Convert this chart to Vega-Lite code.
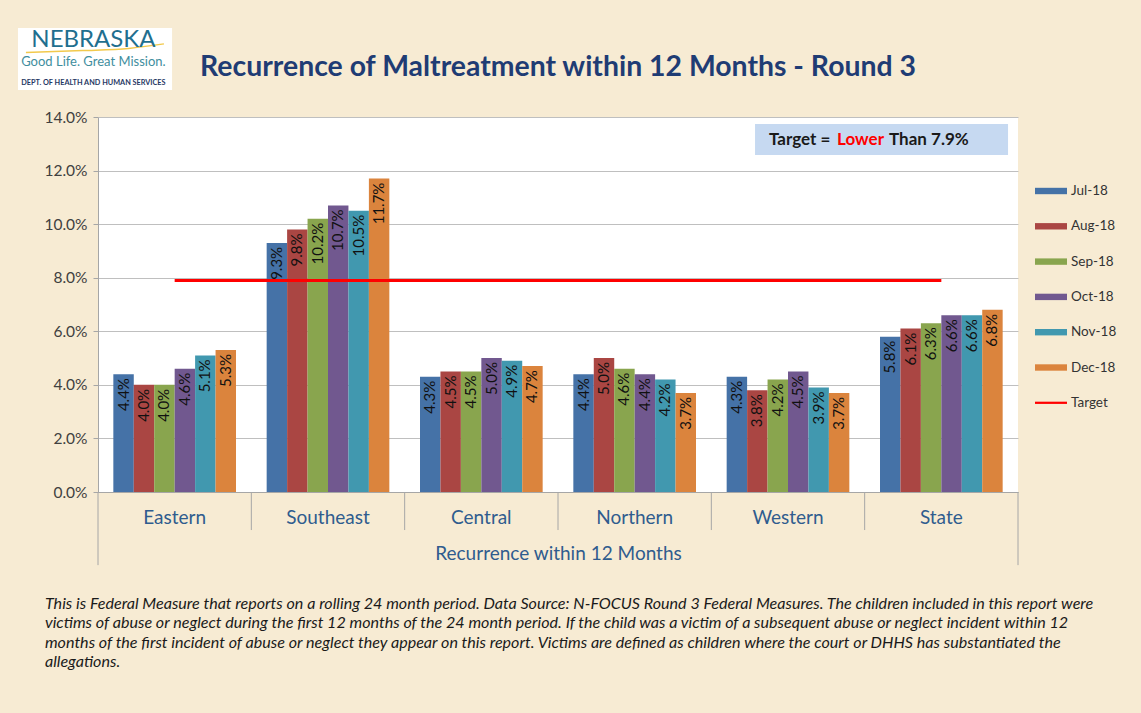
{
  "$schema": "https://vega.github.io/schema/vega-lite/v6.json",
  "width": 920,
  "height": 375,
  "autosize": "none",
  "padding": {"left": 98, "top": 117, "right": 123, "bottom": 221},
  "background": "#F7EBD3",
  "view": {"fill": "white", "stroke": null},
  "title": {
    "text": "Recurrence of Maltreatment within 12 Months - Round 3",
    "font": "Lato",
    "fontSize": 28.4,
    "fontWeight": "bold",
    "color": "#1F3C74",
    "anchor": "middle",
    "frame": "group",
    "offset": -55
  },
  "config": {"font": "Lato"},
  "datasets": {
    "bars": [
      {"region": "Eastern", "month": "Jul-18", "value": 0.044},
      {"region": "Eastern", "month": "Aug-18", "value": 0.040},
      {"region": "Eastern", "month": "Sep-18", "value": 0.040},
      {"region": "Eastern", "month": "Oct-18", "value": 0.046},
      {"region": "Eastern", "month": "Nov-18", "value": 0.051},
      {"region": "Eastern", "month": "Dec-18", "value": 0.053},
      {"region": "Southeast", "month": "Jul-18", "value": 0.093},
      {"region": "Southeast", "month": "Aug-18", "value": 0.098},
      {"region": "Southeast", "month": "Sep-18", "value": 0.102},
      {"region": "Southeast", "month": "Oct-18", "value": 0.107},
      {"region": "Southeast", "month": "Nov-18", "value": 0.105},
      {"region": "Southeast", "month": "Dec-18", "value": 0.117},
      {"region": "Central", "month": "Jul-18", "value": 0.043},
      {"region": "Central", "month": "Aug-18", "value": 0.045},
      {"region": "Central", "month": "Sep-18", "value": 0.045},
      {"region": "Central", "month": "Oct-18", "value": 0.050},
      {"region": "Central", "month": "Nov-18", "value": 0.049},
      {"region": "Central", "month": "Dec-18", "value": 0.047},
      {"region": "Northern", "month": "Jul-18", "value": 0.044},
      {"region": "Northern", "month": "Aug-18", "value": 0.050},
      {"region": "Northern", "month": "Sep-18", "value": 0.046},
      {"region": "Northern", "month": "Oct-18", "value": 0.044},
      {"region": "Northern", "month": "Nov-18", "value": 0.042},
      {"region": "Northern", "month": "Dec-18", "value": 0.037},
      {"region": "Western", "month": "Jul-18", "value": 0.043},
      {"region": "Western", "month": "Aug-18", "value": 0.038},
      {"region": "Western", "month": "Sep-18", "value": 0.042},
      {"region": "Western", "month": "Oct-18", "value": 0.045},
      {"region": "Western", "month": "Nov-18", "value": 0.039},
      {"region": "Western", "month": "Dec-18", "value": 0.037},
      {"region": "State", "month": "Jul-18", "value": 0.058},
      {"region": "State", "month": "Aug-18", "value": 0.061},
      {"region": "State", "month": "Sep-18", "value": 0.063},
      {"region": "State", "month": "Oct-18", "value": 0.066},
      {"region": "State", "month": "Nov-18", "value": 0.066},
      {"region": "State", "month": "Dec-18", "value": 0.068}
    ],
    "target": [
      {"region": "Eastern", "target": 0.079},
      {"region": "Southeast", "target": 0.079},
      {"region": "Central", "target": 0.079},
      {"region": "Northern", "target": 0.079},
      {"region": "Western", "target": 0.079},
      {"region": "State", "target": 0.079}
    ],
    "boxes": [
      {"name": "logo", "x": -0.522, "x2": 0.483, "y": 0.1501, "y2": 0.1732, "fill": "white"},
      {"name": "target", "x": 4.285, "x2": 5.935, "y": 0.1258, "y2": 0.1374, "fill": "box"}
    ],
    "dividers": [
      {"x": 0, "y": 0, "y2": -0.0273},
      {"x": 1, "y": 0, "y2": -0.0142},
      {"x": 2, "y": 0, "y2": -0.0142},
      {"x": 3, "y": 0, "y2": -0.0142},
      {"x": 4, "y": 0, "y2": -0.0142},
      {"x": 5, "y": 0, "y2": -0.0142},
      {"x": 6, "y": 0, "y2": -0.0273}
    ],
    "targetText": [
      {"t": "Target =", "x": 4.376, "y": 0.1314, "c": "black"},
      {"t": "Lower", "x": 4.82, "y": 0.1314, "c": "red"},
      {"t": "Than 7.9%", "x": 5.159, "y": 0.1314, "c": "black"}
    ],
    "swoosh": [
      {"x": -0.47, "y": 0.1641, "o": 1},
      {"x": -0.1, "y": 0.1648, "o": 2},
      {"x": 0.2, "y": 0.1656, "o": 3},
      {"x": 0.43, "y": 0.1673, "o": 4}
    ],
    "note": [
      {"t": "This is Federal Measure that reports on a rolling 24 month period.  Data Source: N-FOCUS Round 3 Federal Measures.  The children included in this report were\nvictims of  abuse or neglect during the first 12 months of the 24 month period.  If the child was a victim of a subsequent abuse or neglect incident within 12\nmonths of the first incident of abuse or neglect they appear on this report.  Victims are defined as children where the court or DHHS has substantiated the\nallegations.", "x": -0.346, "y": -0.0388}
    ]
  },
  "layer": [
    {
      "layer": [
        {
          "data": {"name": "bars"},
          "mark": {"type": "bar"},
          "encoding": {
            "x": {
              "field": "region", "type": "nominal", "sort": null,
              "scale": {"paddingInner": 0.2, "paddingOuter": 0.1},
              "axis": {
                "title": "Recurrence within 12 Months",
                "labelAngle": 0,
                "labelFontSize": 19,
                "labelColor": "#2F5C8E",
                "labelPadding": 16,
                "ticks": false,
                "domainColor": "#A6A6A6",
                "titleFontSize": 19,
                "titleFontWeight": "normal",
                "titleColor": "#2F5C8E",
                "titlePadding": 17,
                "grid": false
              }
            },
            "xOffset": {
              "field": "month", "type": "nominal",
              "sort": ["Jul-18", "Aug-18", "Sep-18", "Oct-18", "Nov-18", "Dec-18"],
              "scale": {"paddingInner": 0, "paddingOuter": 0}
            },
            "y": {
              "field": "value", "type": "quantitative",
              "scale": {"domain": [0, 0.14], "nice": false},
              "axis": {
                "title": null,
                "format": ".1%",
                "values": [0, 0.02, 0.04, 0.06, 0.08, 0.1, 0.12, 0.14],
                "labelFontSize": 15.5,
                "labelColor": "#404040",
                "labelPadding": 6,
                "tickSize": 5,
                "tickColor": "#A6A6A6",
                "domainColor": "#A6A6A6",
                "gridColor": "#BFBFBF",
                "gridWidth": 1.2
              }
            },
            "color": {
              "field": "month", "type": "nominal",
              "scale": {
                "domain": ["Jul-18", "Aug-18", "Sep-18", "Oct-18", "Nov-18", "Dec-18", "Target"],
                "range": ["#4572A7", "#AA4643", "#89A54E", "#71588F", "#4198AF", "#DB843D", "#FF0000"]
              },
              "legend": {
                "title": null,
                "orient": "none",
                "legendX": 937,
                "legendY": 58,
                "symbolType": "M-1,-0.2H1V0.2H-1Z",
                "symbolSize": 1024,
                "symbolStrokeWidth": 0,
                "labelFontSize": 13.5,
                "labelColor": "#333333",
                "labelOffset": 4,
                "rowPadding": 12.3,
                "encode": {
                  "symbols": {
                    "update": {
                      "shape": {"signal": "datum.value === 'Target' ? 'M-1,-0.07H1V0.07H-1Z' : 'M-1,-0.2H1V0.2H-1Z'"}
                    }
                  }
                }
              }
            }
          }
        },
        {
          "data": {"name": "bars"},
          "mark": {"type": "text", "angle": 270, "align": "right", "baseline": "middle", "dx": -4, "fontSize": 15, "color": "#111111"},
          "encoding": {
            "x": {"field": "region", "type": "nominal", "sort": null},
            "xOffset": {"field": "month", "type": "nominal", "sort": ["Jul-18", "Aug-18", "Sep-18", "Oct-18", "Nov-18", "Dec-18"]},
            "y": {"field": "value", "type": "quantitative", "scale": {"domain": [0, 0.14], "nice": false}},
            "text": {"field": "value", "type": "quantitative", "format": ".1%"}
          }
        },
        {
          "data": {"name": "target"},
          "mark": {"type": "line", "strokeWidth": 3},
          "encoding": {
            "x": {"field": "region", "type": "nominal", "sort": null},
            "y": {"field": "target", "type": "quantitative", "scale": {"domain": [0, 0.14], "nice": false}},
            "color": {"datum": "Target"}
          }
        }
      ]
    },
    {
      "layer": [
        {
          "data": {"name": "boxes"},
          "mark": {"type": "rect", "clip": false},
          "encoding": {
            "x": {"field": "x", "type": "quantitative", "scale": {"domain": [0, 6], "nice": false, "zero": false}, "axis": null},
            "x2": {"field": "x2"},
            "y": {"field": "y", "type": "quantitative", "scale": {"domain": [0, 0.14], "nice": false}, "axis": null},
            "y2": {"field": "y2"},
            "fill": {"field": "fill", "type": "nominal", "scale": {"domain": ["white", "box"], "range": ["#FFFFFF", "#C6D9F1"]}, "legend": null}
          }
        },
        {
          "data": {"name": "dividers"},
          "mark": {"type": "rule", "clip": false, "color": "#A6A6A6", "strokeWidth": 1},
          "encoding": {
            "x": {"field": "x", "type": "quantitative", "scale": {"domain": [0, 6], "nice": false, "zero": false}, "axis": null},
            "y": {"field": "y", "type": "quantitative", "scale": {"domain": [0, 0.14], "nice": false}, "axis": null},
            "y2": {"field": "y2"}
          }
        },
        {
          "data": {"name": "targetText"},
          "mark": {"type": "text", "clip": false, "align": "left", "baseline": "middle", "fontSize": 17, "fontWeight": "bold"},
          "encoding": {
            "x": {"field": "x", "type": "quantitative", "scale": {"domain": [0, 6], "nice": false, "zero": false}, "axis": null},
            "y": {"field": "y", "type": "quantitative", "scale": {"domain": [0, 0.14], "nice": false}, "axis": null},
            "text": {"field": "t"},
            "color": {"field": "c", "type": "nominal", "scale": {"domain": ["black", "red"], "range": ["#1A1A1A", "#FF0000"]}, "legend": null}
          }
        },
        {
          "data": {"name": "swoosh"},
          "mark": {"type": "line", "clip": false, "color": "#F2C94C", "strokeWidth": 1.5, "interpolate": "monotone"},
          "encoding": {
            "x": {"field": "x", "type": "quantitative", "scale": {"domain": [0, 6], "nice": false, "zero": false}, "axis": null},
            "y": {"field": "y", "type": "quantitative", "scale": {"domain": [0, 0.14], "nice": false}, "axis": null},
            "order": {"field": "o"}
          }
        },
        {
          "data": {"values": [{"t": "NEBRASKA", "x": -0.03, "y": 0.1663}]},
          "mark": {"type": "text", "clip": false, "align": "center", "baseline": "alphabetic", "fontSize": 24, "color": "#1F6F8F"},
          "encoding": {
            "x": {"field": "x", "type": "quantitative", "scale": {"domain": [0, 6], "nice": false, "zero": false}, "axis": null},
            "y": {"field": "y", "type": "quantitative", "scale": {"domain": [0, 0.14], "nice": false}, "axis": null},
            "text": {"field": "t"}
          }
        },
        {
          "data": {"values": [{"t": "Good Life. Great Mission.", "x": -0.03, "y": 0.1589}]},
          "mark": {"type": "text", "clip": false, "align": "center", "baseline": "alphabetic", "fontSize": 13, "color": "#3F8E9E"},
          "encoding": {
            "x": {"field": "x", "type": "quantitative", "scale": {"domain": [0, 6], "nice": false, "zero": false}, "axis": null},
            "y": {"field": "y", "type": "quantitative", "scale": {"domain": [0, 0.14], "nice": false}, "axis": null},
            "text": {"field": "t"}
          }
        },
        {
          "data": {"values": [{"t": "DEPT. OF HEALTH AND HUMAN SERVICES", "x": -0.03, "y": 0.1518}]},
          "mark": {"type": "text", "clip": false, "align": "center", "baseline": "alphabetic", "fontSize": 7.3, "fontWeight": "bold", "color": "#1F3864"},
          "encoding": {
            "x": {"field": "x", "type": "quantitative", "scale": {"domain": [0, 6], "nice": false, "zero": false}, "axis": null},
            "y": {"field": "y", "type": "quantitative", "scale": {"domain": [0, 0.14], "nice": false}, "axis": null},
            "text": {"field": "t"}
          }
        },
        {
          "data": {"name": "note"},
          "mark": {"type": "text", "clip": false, "align": "left", "baseline": "top", "fontSize": 16.1, "fontStyle": "italic", "lineBreak": "\n", "lineHeight": 19.4, "color": "#1A1A1A"},
          "encoding": {
            "x": {"field": "x", "type": "quantitative", "scale": {"domain": [0, 6], "nice": false, "zero": false}, "axis": null},
            "y": {"field": "y", "type": "quantitative", "scale": {"domain": [0, 0.14], "nice": false}, "axis": null},
            "text": {"field": "t"}
          }
        }
      ],
      "resolve": {"scale": {"color": "independent"}}
    }
  ],
  "resolve": {"scale": {"x": "independent", "y": "independent", "color": "independent"}}
}
